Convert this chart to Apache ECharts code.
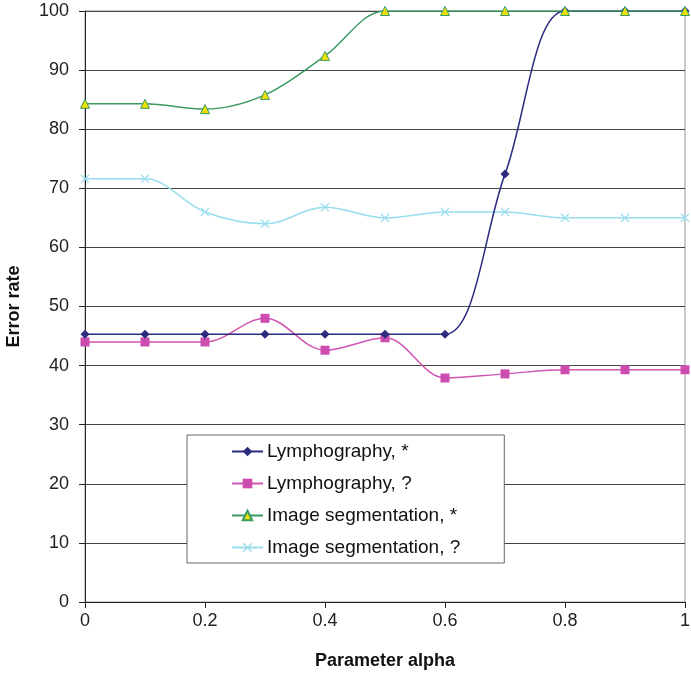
<!DOCTYPE html>
<html>
<head>
<meta charset="utf-8">
<script src="https://cdn.jsdelivr.net/npm/echarts@6/dist/echarts.min.js"></script>
<style>html,body{margin:0;padding:0;background:#fff;}#c{width:691px;height:676px;}</style>
</head>
<body>
<div id="c"></div>
<script>
const alphas = [0, 0.1, 0.2, 0.3, 0.4, 0.5, 0.6, 0.7, 0.8, 0.9, 1.0];
const seriesNames = ['Lymphography, *', 'Lymphography, ?', 'Image segmentation, *', 'Image segmentation, ?'];
const lymphStar = [45.3, 45.3, 45.3, 45.3, 45.3, 45.3, 45.3, 72.4, 100, 100, 100];
const lymphQ = [44.0, 44.0, 44.0, 48.0, 42.6, 44.7, 37.9, 38.6, 39.3, 39.3, 39.3];
const segStar = [84.3, 84.3, 83.4, 85.8, 92.4, 100, 100, 100, 100, 100, 100];
const segQ = [71.6, 71.6, 66.0, 64.0, 66.8, 65.0, 66.0, 66.0, 65.0, 65.0, 65.0];
const xTicks = [0, 0.2, 0.4, 0.6, 0.8, 1];

const pairs = v => alphas.map((a, i) => [a, v[i]]);
const crossPath = 'path://M0,1 L1,0 L5,4 L9,0 L10,1 L6,5 L10,9 L9,10 L5,6 L1,10 L0,9 L4,5 Z';

const chart = echarts.init(document.getElementById('c'));
const font = 'Liberation Sans, Arial, sans-serif';
chart.setOption({
  animation: false,
  textStyle: { fontFamily: font },
  grid: { left: 85, right: 6, top: 11, bottom: 74, containLabel: false, outerBoundsMode: 'none', show: true, borderColor: '#999', borderWidth: 1 },
  xAxis: {
    type: 'value', min: 0, max: 1, interval: 0.2,
    name: 'Parameter alpha', nameLocation: 'middle', nameGap: 50,
    nameTextStyle: { fontSize: 18, fontWeight: 'bold', color: '#111', fontFamily: font },
    axisLine: { show: true, onZero: false, lineStyle: { color: '#222', width: 1 } },
    axisTick: { show: true, length: 6, lineStyle: { color: '#222' } },
    axisLabel: { fontSize: 18, color: '#222', margin: 10, formatter: v => { const t = xTicks.find(x => Math.abs(x - v) < 1e-9); return t === undefined ? '' : String(t); } },
    splitLine: { show: false }
  },
  yAxis: {
    type: 'value', min: 0, max: 100, interval: 10,
    name: 'Error rate', nameLocation: 'middle', nameGap: 62, nameRotate: 90,
    nameTextStyle: { fontSize: 18, fontWeight: 'bold', color: '#111', fontFamily: font },
    axisLine: { show: true, lineStyle: { color: '#222', width: 1 } },
    axisTick: { show: true, length: 6, lineStyle: { color: '#222' } },
    axisLabel: { fontSize: 18, color: '#222', margin: 16 },
    splitLine: { show: true, lineStyle: { color: '#444', width: 1 } }
  },
  legend: {
    orient: 'vertical', left: 187, top: 435,
    backgroundColor: '#fff', borderColor: '#666', borderWidth: 1,
    padding: [7, 44, 6, 44],
    itemWidth: 31, itemHeight: 12, itemGap: 13,
    textStyle: { fontSize: 19, lineHeight: 19, color: '#111', fontFamily: font, padding: [0, 0, 0, -1] },
    data: seriesNames
  },
  series: [
    { name: seriesNames[0], type: 'line', smooth: 0.35, data: pairs(lymphStar),
      symbol: 'diamond', symbolSize: 9, z: 4,
      lineStyle: { color: '#2B2B80', width: 1.5 }, itemStyle: { color: '#2B2B80' } },
    { name: seriesNames[1], type: 'line', smooth: 0.35, data: pairs(lymphQ),
      symbol: 'rect', symbolSize: 9, z: 3,
      lineStyle: { color: '#D055B5', width: 1.5 }, itemStyle: { color: '#CC4CB0' } },
    { name: seriesNames[2], type: 'line', smooth: 0.35, data: pairs(segStar),
      symbol: 'triangle', symbolSize: 9, z: 5,
      lineStyle: { color: '#3A9A60', width: 1.5 }, itemStyle: { color: '#EEE000', borderColor: '#3A9A60', borderWidth: 1 } },
    { name: seriesNames[3], type: 'line', smooth: 0.35, data: pairs(segQ),
      symbol: crossPath, symbolSize: 9, z: 2,
      lineStyle: { color: '#99DDEE', width: 1.5 }, itemStyle: { color: '#99DDEE' } }
  ]
});
</script>
</body>
</html>
